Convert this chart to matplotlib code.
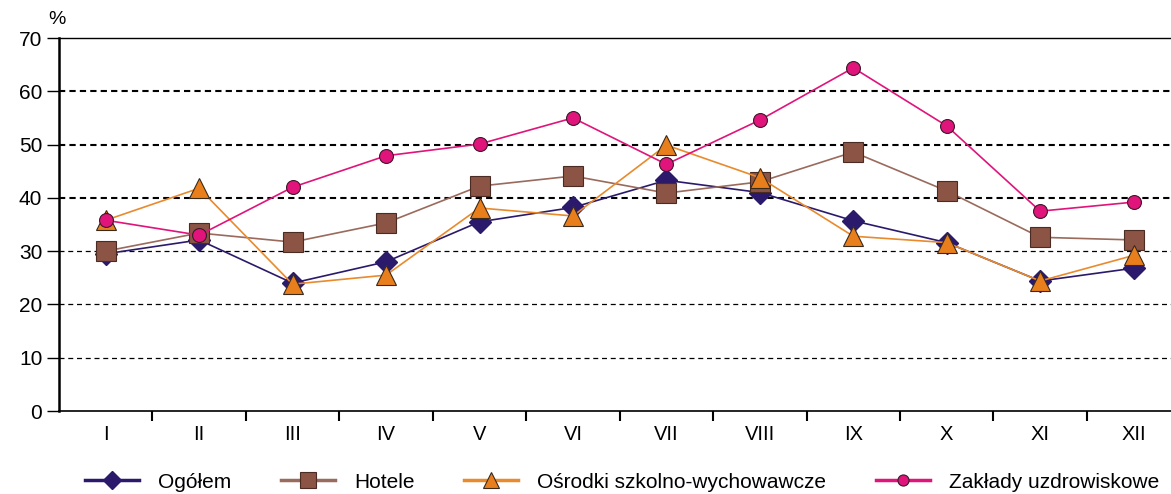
import matplotlib.pyplot as plt

# months and occupancy rates (%)
months = ['I', 'II', 'III', 'IV', 'V', 'VI', 'VII', 'VIII', 'IX', 'X', 'XI', 'XII']
ogolem = [29.5, 32.1, 24.0, 28.0, 35.5, 38.2, 43.3, 41.0, 35.7, 31.6, 24.4, 26.8]
hotele = [30.0, 33.4, 31.7, 35.3, 42.2, 44.1, 40.9, 43.0, 48.6, 41.3, 32.6, 32.1]
osrodki = [35.8, 41.8, 23.8, 25.5, 38.1, 36.6, 49.9, 43.8, 32.8, 31.6, 24.4, 29.2]
zaklady = [35.8, 33.0, 42.0, 47.9, 50.1, 55.0, 46.3, 54.6, 64.4, 53.5, 37.5, 39.2]

plt.rcParams['font.family'] = ['Liberation Sans', 'DejaVu Sans']

fig = plt.figure(figsize=(11.71, 4.94), dpi=100)
ax = fig.add_axes([59 / 1171, 83 / 494, 1112 / 1171, 373 / 494])

x = list(range(len(months)))
ax.plot(x, ogolem, color='#2b1a6b', lw=1.2, marker='D', ms=11,
        mfc='#2b1a6b', mec='#2b1a6b', label='Ogółem', zorder=3)
ax.plot(x, hotele, color='#9a6a5c', lw=1.2, marker='s', ms=14,
        mfc='#8b5444', mec='#4a2c24', mew=0.8, label='Hotele', zorder=3)
ax.plot(x, osrodki, color='#e98a2c', lw=1.2, marker='^', ms=15,
        mfc='#e97e1c', mec='#3a2a1a', mew=0.8, label='Ośrodki szkolno-wychowawcze', zorder=4)
ax.plot(x, zaklady, color='#e0147a', lw=1.2, marker='o', ms=10,
        mfc='#e0147a', mec='#3a1a2a', mew=0.8, label='Zakłady uzdrowiskowe', zorder=5)

ax.set_ylim(0, 70)
ax.set_xlim(-0.5, 11.4)
ax.set_yticks(range(0, 80, 10))
ax.tick_params(axis='y', labelsize=15, length=9, width=1, direction='out', pad=3)
ax.set_xticks(x)
ax.set_xticklabels(months, fontsize=14.5)
ax.tick_params(axis='x', length=0, pad=10)
ax.set_xticks([i + 0.5 for i in range(11)], minor=True)
ax.tick_params(axis='x', which='minor', length=7, width=1.5, direction='out')

for v in [10, 20, 30]:
    ax.axhline(v, color='black', lw=0.9, ls=(0, (4, 3)), zorder=1)
for v in [40, 50, 60]:
    ax.axhline(v, color='black', lw=1.5, ls=(0, (3, 2)), zorder=1)

ax.spines['left'].set_linewidth(1.8)
ax.spines['bottom'].set_linewidth(1.2)
ax.spines['top'].set_linewidth(1.0)
ax.spines['right'].set_visible(False)

fig.text(57 / 1171, 1 - 20 / 494, '%', fontsize=14, ha='center', va='center')

leg = fig.legend(loc='center', bbox_to_anchor=(622 / 1171, 1 - 482 / 494), ncol=4, frameon=False,
                 fontsize=15, handlelength=2.6, columnspacing=2.4, handletextpad=0.9,
                 markerscale=0.8, borderpad=0, borderaxespad=0)
for line in leg.get_lines():
    line.set_linewidth(2.5)

plt.savefig('out.png', dpi=100)
